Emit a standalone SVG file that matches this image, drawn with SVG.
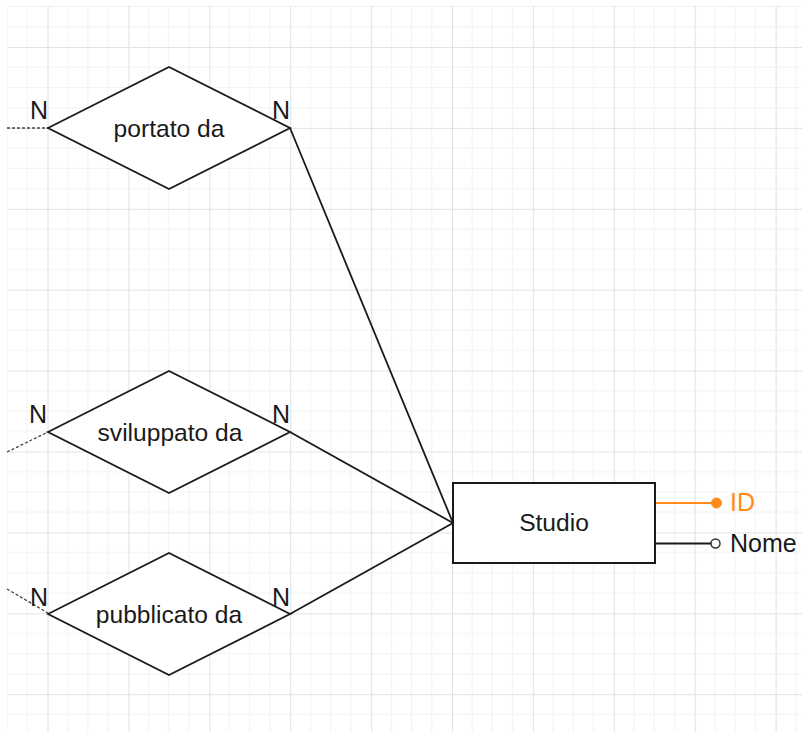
<svg xmlns="http://www.w3.org/2000/svg" width="802" height="732" viewBox="0 0 802 732">
  <defs>
    <pattern id="grid" patternUnits="userSpaceOnUse" x="47.5" y="47" width="80.9" height="80.9">
      <rect width="80.9" height="80.9" fill="#ffffff"/>
      <path d="M20.225 0V80.9M40.45 0V80.9M60.675 0V80.9M0 20.225H80.9M0 40.45H80.9M0 60.675H80.9" stroke="#f2f2f2" stroke-width="1" fill="none"/>
      <path d="M0.5 0V80.9M0 0.5H80.9" stroke="#e2e2e2" stroke-width="1.2" fill="none"/>
    </pattern>
    <style>
      .rel { fill: #ffffff; stroke: #1a1a1a; stroke-width: 1.8; }
      .ent { fill: #ffffff; stroke: #1a1a1a; stroke-width: 2; }
      .lbl { font-family: "Liberation Sans", Arial, sans-serif; font-size: 24.6px; fill: #1a1a1a; }
      .card { font-family: "Liberation Sans", Arial, sans-serif; font-size: 25px; fill: #1a1a1a; }
      .edge { stroke: #1a1a1a; stroke-width: 1.8; fill: none; }
      .dash { stroke: #444444; stroke-width: 1.3; stroke-dasharray: 3 2; fill: none; }
    </style>
  </defs>
  <rect width="802" height="732" fill="#ffffff"/>
  <rect x="7" y="6" width="795" height="726" fill="url(#grid)"/>

  <g id="connectors">
    <line class="dash" x1="7" y1="128" x2="48" y2="128"/>
    <line class="dash" x1="7" y1="452" x2="48" y2="432"/>
    <line class="dash" x1="7" y1="589" x2="48" y2="613"/>
    <line class="edge" x1="290" y1="128" x2="453" y2="523"/>
    <line class="edge" x1="290" y1="432" x2="453" y2="523"/>
    <line class="edge" x1="290" y1="614" x2="453" y2="523"/>
    <line x1="655" y1="503" x2="716" y2="503" stroke="#ff8c1a" stroke-width="1.8"/>
    <line x1="655" y1="543.5" x2="711" y2="543.5" stroke="#1a1a1a" stroke-width="1.8"/>
  </g>

  <g id="portato">
    <polygon class="rel" points="48,128 169,67 290,128 169,189"/>
    <text class="lbl" x="169" y="137" text-anchor="middle">portato da</text>
    <text class="card" x="30" y="119">N</text>
    <text class="card" x="272" y="119">N</text>
  </g>

  <g id="sviluppato">
    <polygon class="rel" points="48,432 169,371 290,432 169,493"/>
    <text class="lbl" x="170" y="441" text-anchor="middle">sviluppato da</text>
    <text class="card" x="29" y="423">N</text>
    <text class="card" x="272" y="423">N</text>
  </g>

  <g id="pubblicato">
    <polygon class="rel" points="48,614 169,553 290,614 169,675"/>
    <text class="lbl" x="169" y="623" text-anchor="middle">pubblicato da</text>
    <text class="card" x="30" y="606">N</text>
    <text class="card" x="272" y="606">N</text>
  </g>

  <g id="studio">
    <rect class="ent" x="453" y="483" width="202" height="80"/>
    <text class="lbl" x="554" y="531" text-anchor="middle">Studio</text>
  </g>

  <g id="attr-id">
    <circle cx="716.5" cy="503" r="5" fill="#ff8c1a" stroke="#ff8c1a" stroke-width="1"/>
    <text class="card" x="730" y="511" style="fill:#ff8c1a">ID</text>
  </g>

  <g id="attr-nome">
    <circle cx="715.5" cy="543.5" r="4.5" fill="#ffffff" stroke="#333333" stroke-width="1.5"/>
    <text class="card" x="730" y="552">Nome</text>
  </g>
</svg>
